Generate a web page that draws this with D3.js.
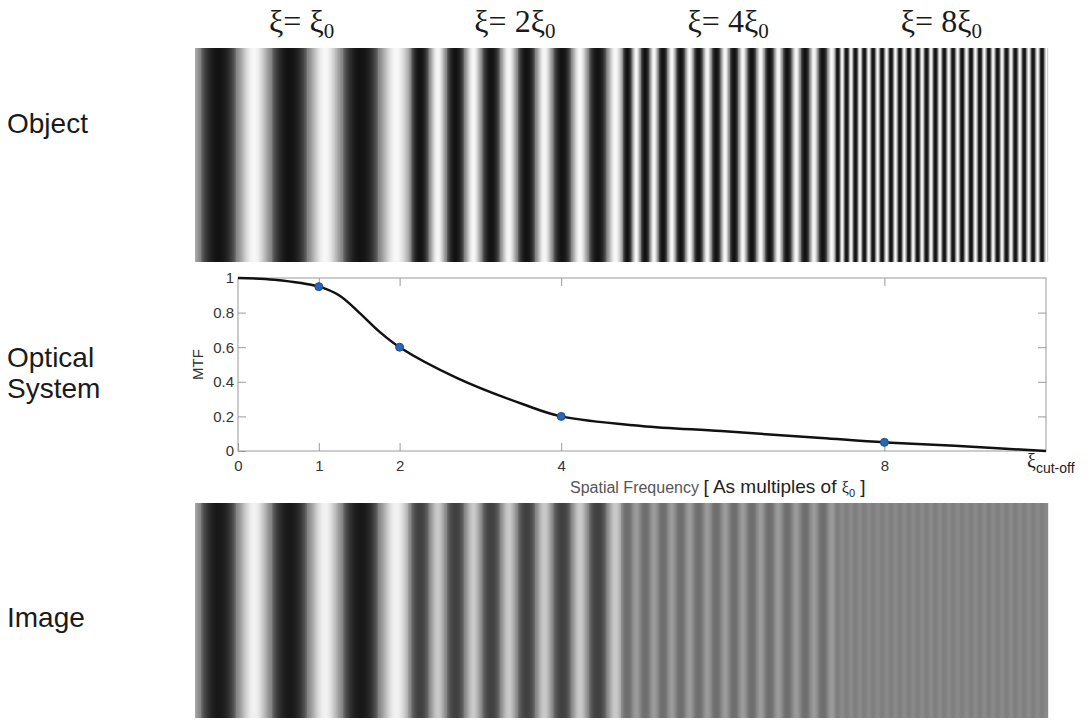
<!DOCTYPE html>
<html>
<head>
<meta charset="utf-8">
<script src="https://cdn.jsdelivr.net/npm/d3@7"></script>
<style>
  body { margin: 0; background: #fff; }
  text { font-family: "Liberation Sans", Arial, sans-serif; }
</style>
</head>
<body>
<div id="chart"></div>
<script>
// grating sections (multiples of xi0) and what the optical system passes
var multiples = [1, 2, 4, 8];
var multipleLabels = ["", "2", "4", "8"];
var mtfAtMultiples = [0.95, 0.6, 0.2, 0.05];
var baseCycles = 3;   // cycles of xi0 across one section

// MTF curve
var curveFreq = [0, 0.45, 1, 1.25, 1.5, 1.75, 2, 2.72, 3.53, 4, 4.99, 5.98, 7.22, 8, 8.87, 10];
var curveMtf  = [1, 0.99, 0.95, 0.9, 0.8, 0.69, 0.6, 0.42, 0.27, 0.2, 0.145, 0.115, 0.075, 0.05, 0.03, 0];

var xTicks = [0, 1, 2, 4, 8];
var yTicks = [0, 0.2, 0.4, 0.6, 0.8, 1];
var rowLabels = [["Object"], ["Optical", "System"], ["Image"]];

var W = 1088, H = 720;

var svg = d3.select("#chart").append("svg")
  .attr("width", W)
  .attr("height", H);

// ---- stripe panels ----
var sx = d3.scaleLinear().domain([0, multiples.length]).range([195, 1048]);
var objPanel = {top: 48, bottom: 262};
var imgPanel = {top: 503, bottom: 718};

function shape(c) {
  return c >= 0 ? Math.pow(c, 1.4) : -Math.pow(-c, 0.55);
}
function grayAt(u, useMtf) {
  var i = Math.min(Math.floor(u), multiples.length - 1);
  var t = u - i;
  var k = baseCycles * multiples[i];
  var m = useMtf ? mtfAtMultiples[i] : 1;
  var c = Math.cos(2 * Math.PI * (k * t - 0.33) + Math.PI);
  var v = 0.5 + 0.5 * m * shape(c);
  var g = Math.round(255 * (0.07 + 0.9 * v));
  return d3.rgb(g, g, g).toString();
}

var cols = d3.range(Math.round(sx.range()[0]), Math.round(sx.range()[1]));

function drawStripes(panel, useMtf) {
  svg.append("g")
    .selectAll("rect")
    .data(cols)
    .enter().append("rect")
    .attr("x", function(d) { return d; })
    .attr("y", panel.top)
    .attr("width", 1.2)
    .attr("height", panel.bottom - panel.top)
    .attr("fill", function(d) { return grayAt(sx.invert(d + 0.5), useMtf); });
}
drawStripes(objPanel, false);
drawStripes(imgPanel, true);

// section titles
var titles = svg.append("g").selectAll("text")
  .data(multiples)
  .enter().append("text")
  .attr("x", function(d, i) { return sx(i + 0.5); })
  .attr("y", 32)
  .attr("text-anchor", "middle")
  .style("font-family", "'Liberation Serif', 'DejaVu Serif', serif")
  .style("font-size", "32px")
  .style("fill", "#1a1a1a");
titles.append("tspan").text(function(d, i) { return "ξ= " + multipleLabels[i] + "ξ"; });
titles.append("tspan").attr("dy", 6).style("font-size", "21px").text("0");

// ---- MTF plot ----
var x = d3.scaleLinear().domain([0, 10]).range([238, 1046]);
var y = d3.scaleLinear().domain([0, 1]).range([451, 278]);

svg.append("rect")
  .attr("x", x(0)).attr("y", y(1))
  .attr("width", x(10) - x(0)).attr("height", y(0) - y(1))
  .attr("fill", "none").attr("stroke", "#9a9a9a").attr("stroke-width", 1);

function styleAxis(g, labels) {
  g.select(".domain").remove();
  g.selectAll(".tick line").attr("stroke", "#9a9a9a");
  g.selectAll("text")
    .style("font-family", "'Liberation Sans', Arial, sans-serif")
    .style("font-size", "15px")
    .style("fill", "#333");
  if (!labels) g.selectAll("text").remove();
}

svg.append("g")
  .attr("transform", "translate(0," + y(0) + ")")
  .call(d3.axisBottom(x).tickValues(xTicks).tickSizeInner(-8).tickSizeOuter(0).tickPadding(9))
  .call(styleAxis, true);
svg.append("g")
  .attr("transform", "translate(0," + y(1) + ")")
  .call(d3.axisTop(x).tickValues(xTicks.slice(1)).tickSizeInner(-8).tickSizeOuter(0))
  .call(styleAxis, false);
svg.append("g")
  .attr("transform", "translate(" + x(0) + ",0)")
  .call(d3.axisLeft(y).tickValues(yTicks).tickFormat(d3.format("~g")).tickSizeInner(-8).tickSizeOuter(0).tickPadding(4))
  .call(styleAxis, true);
svg.append("g")
  .attr("transform", "translate(" + x(10) + ",0)")
  .call(d3.axisRight(y).tickValues(yTicks.slice(1, -1)).tickSizeInner(-8).tickSizeOuter(0))
  .call(styleAxis, false);

var curve = curveFreq.map(function(f, i) { return [f, curveMtf[i]]; });
var line = d3.line()
  .x(function(d) { return x(d[0]); })
  .y(function(d) { return y(d[1]); })
  .curve(d3.curveCatmullRom.alpha(0.5));

svg.append("path")
  .datum(curve)
  .attr("d", line)
  .attr("fill", "none")
  .attr("stroke", "#111")
  .attr("stroke-width", 2.5);

svg.append("g").selectAll("circle")
  .data(multiples)
  .enter().append("circle")
  .attr("cx", function(d) { return x(d); })
  .attr("cy", function(d, i) { return y(mtfAtMultiples[i]); })
  .attr("r", 4)
  .attr("fill", "#2a66b3")
  .attr("stroke", "#1b4f91")
  .attr("stroke-width", 1);

// y label
svg.append("text")
  .attr("transform", "translate(203," + y(0.5) + ")rotate(-90)")
  .attr("text-anchor", "middle")
  .style("font-size", "15px")
  .style("fill", "#333")
  .text("MTF");

// x label
var xl = svg.append("text")
  .attr("x", 570)
  .attr("y", 493);
xl.append("tspan").style("font-size", "16px").style("fill", "#555").text("Spatial Frequency ");
xl.append("tspan").style("font-size", "19px").style("fill", "#222").text("[ As multiples of  ");
xl.append("tspan").style("font-size", "16px").style("fill", "#222")
  .style("font-family", "'Liberation Serif', serif").text("ξ");
xl.append("tspan").attr("dy", 4).style("font-size", "11px").style("fill", "#222").text("0");
xl.append("tspan").attr("dy", -4).style("font-size", "19px").style("fill", "#222").text(" ]");

// cut-off label
var co = svg.append("text")
  .attr("x", x(10) - 19)
  .attr("y", 468);
co.append("tspan").style("font-family", "'Liberation Serif', serif")
  .style("font-size", "20px").style("fill", "#222").text("ξ");
co.append("tspan").attr("dy", 5).style("font-size", "14px").style("fill", "#222").text("cut-off");

// row labels
var rowY = [133, 367, 627];
rowLabels.forEach(function(lines, i) {
  var t = svg.append("text")
    .attr("x", 7)
    .attr("y", rowY[i])
    .style("font-size", "28px")
    .style("fill", "#1a1a1a");
  lines.forEach(function(l, j) {
    t.append("tspan").attr("x", 7).attr("dy", j === 0 ? 0 : 31).text(l);
  });
});
</script>
</body>
</html>
